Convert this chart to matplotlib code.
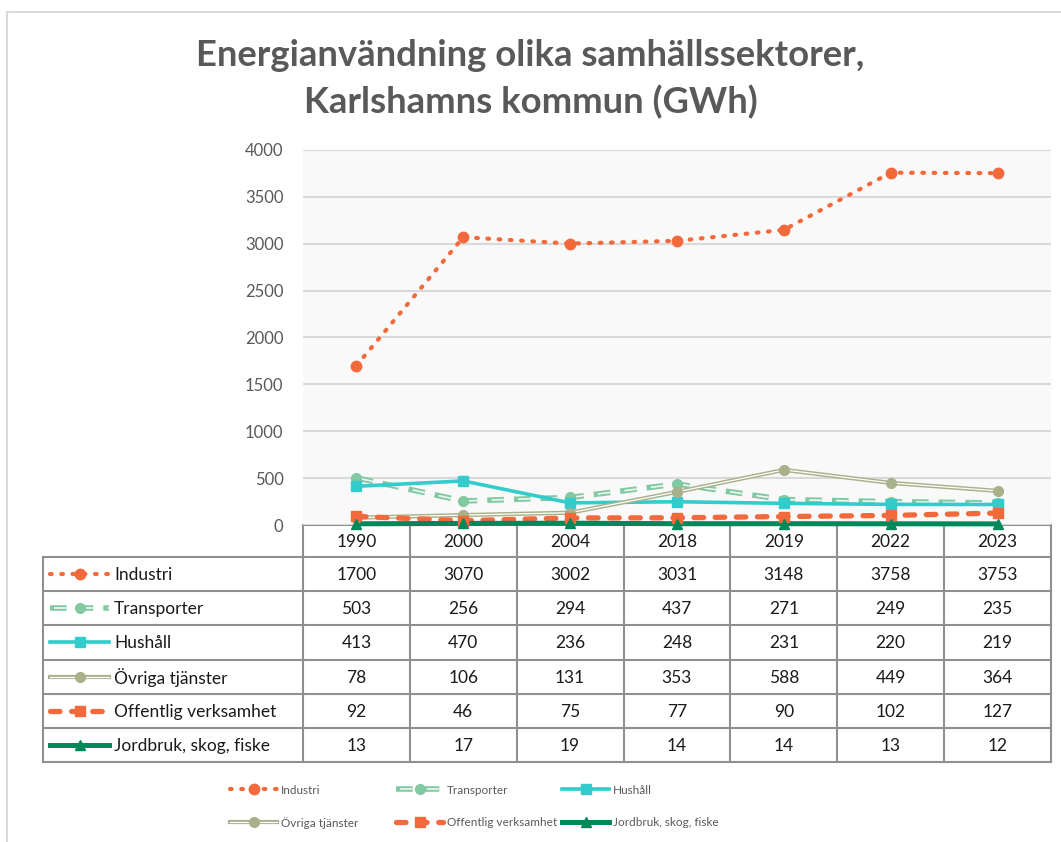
import numpy as np
import matplotlib.pyplot as plt

plt.rcParams['font.family'] = ['Lato', 'DejaVu Sans']

years = ['1990', '2000', '2004', '2018', '2019', '2022', '2023']
industri = [1700, 3070, 3002, 3031, 3148, 3758, 3753]
transporter = [503, 256, 294, 437, 271, 249, 235]
hushall = [413, 470, 236, 248, 231, 220, 219]
ovriga = [78, 106, 131, 353, 588, 449, 364]
offentlig = [92, 46, 75, 77, 90, 102, 127]
jordbruk = [13, 17, 19, 14, 14, 13, 12]

names = ['Industri', 'Transporter', 'Hushåll', 'Övriga tjänster',
         'Offentlig verksamhet', 'Jordbruk, skog, fiske']
series = [industri, transporter, hushall, ovriga, offentlig, jordbruk]

ORANGE = '#F26A3B'
LGREEN = '#82C9A2'
CYAN = '#33CCCC'
OLIVE = '#A8B18A'
DGREEN = '#00875A'

# each series: line layers drawn on top of each other + marker
styles = [
    dict(layers=[dict(color=ORANGE, lw=3.0, ls=(0, (0.4, 2.3)), dash_capstyle='round')],
         marker=dict(marker='o', ms=7.5, mfc=ORANGE, mec=ORANGE)),
    dict(layers=[dict(color=LGREEN, lw=4, ls=(0, (3, 1.8)), dash_capstyle='butt'),
                 dict(color='#EEF8F2', lw=1.2, ls=(13.5, (7.5, 8.5)), dash_capstyle='butt')],
         marker=dict(marker='o', ms=7, mfc=LGREEN, mec=LGREEN)),
    dict(layers=[dict(color=CYAN, lw=2.6)],
         marker=dict(marker='s', ms=6.5, mfc=CYAN, mec=CYAN)),
    dict(layers=[dict(color=OLIVE, lw=3.0), dict(color='white', lw=0.9)],
         marker=dict(marker='o', ms=7, mfc=OLIVE, mec=OLIVE)),
    dict(layers=[dict(color=ORANGE, lw=3.8, ls=(0, (1.8, 2.2)), dash_capstyle='round')],
         marker=dict(marker='s', ms=6.5, mfc=ORANGE, mec=ORANGE)),
    dict(layers=[dict(color=DGREEN, lw=3.6)],
         marker=dict(marker='^', ms=7, mfc=DGREEN, mec=DGREEN)),
]

W, H = 1061, 842
fig = plt.figure(figsize=(W / 100, H / 100), dpi=100)

# overlay in pixel coords for border, table and legend
ov = fig.add_axes([0, 0, 1, 1])
ov.set_xlim(0, W)
ov.set_ylim(H, 0)
ov.axis('off')
ov.plot([7, 7, W + 5], [H + 5, 12, 12], color='#D9D9D9', lw=1.5)

px0, px1, ptop, pbot = 303, 1051, 150, 525
ax = fig.add_axes([px0 / W, 1 - pbot / H, (px1 - px0) / W, (pbot - ptop) / H])
ax.set_facecolor('#F9F9F9')
ax.set_xlim(-0.5, len(years) - 0.5)
ax.set_ylim(0, 4000)
ax.set_yticks(np.arange(0, 4001, 500))
ax.set_xticks([])
ax.grid(axis='y', color='#D9D9D9', lw=1.5)
ax.set_axisbelow(True)
for s in ax.spines.values():
    s.set_visible(False)
ax.tick_params(axis='y', length=0, pad=14, labelsize=12, labelcolor='#595959')

x = np.arange(len(years))
for vals, st in zip(series, styles):
    for lay in st['layers']:
        ax.plot(x, vals, clip_on=False, zorder=3, **lay)
    ax.plot(x, vals, ls='none', clip_on=False, zorder=4, **st['marker'])

fig.text(0.5, 1 - 79 / H, 'Energianvändning olika samhällssektorer,\nKarlshamns kommun (GWh)',
         ha='center', va='center', fontsize=26.3, fontweight='bold', color='#595959',
         linespacing=1.45)


def draw_handle(x0, x1, yc, st):
    for lay in st['layers']:
        ov.plot([x0, x1], [yc, yc], **lay)
    ov.plot([(x0 + x1) / 2], [yc], ls='none', **st['marker'])


# data table
tx0, tx1 = 43, 1051
hy0, hy1 = 525, 557
ry = np.linspace(557, 762, len(names) + 1)
colx = np.linspace(px0, px1, len(years) + 1)
gc = '#8F8F8F'
tlw = 1.5
ov.plot([px0, px1], [hy0, hy0], color=gc, lw=tlw)
for cx in colx:
    ov.plot([cx, cx], [hy0, ry[-1]], color=gc, lw=tlw)
for yy in ry:
    ov.plot([tx0, tx1], [yy, yy], color=gc, lw=tlw)
ov.plot([tx0, tx0], [ry[0], ry[-1]], color=gc, lw=tlw)
for j, yr in enumerate(years):
    ov.text((colx[j] + colx[j + 1]) / 2, (hy0 + hy1) / 2 + 1, yr, ha='center', va='center',
            fontsize=12.5, color='#1A1A1A')
for i, (nm, vals, st) in enumerate(zip(names, series, styles)):
    yc = (ry[i] + ry[i + 1]) / 2
    draw_handle(50, 109, yc, st)
    ov.text(114, yc + 1, nm, ha='left', va='center', fontsize=12.5, color='#1A1A1A')
    for j, v in enumerate(vals):
        ov.text((colx[j] + colx[j + 1]) / 2, yc + 1, str(v), ha='center', va='center',
                fontsize=12.5, color='#1A1A1A')

# legend, 3 per row
for i, (nm, st) in enumerate(zip(names, styles)):
    hx = 230 + (i % 3) * 166
    hy = 789 + (i // 3) * 33
    draw_handle(hx, hx + 47, hy, st)
    ov.text(hx + 51, hy + 1, nm, ha='left', va='center', fontsize=8.5, color='#595959')

fig.savefig('out.png', dpi=100)
